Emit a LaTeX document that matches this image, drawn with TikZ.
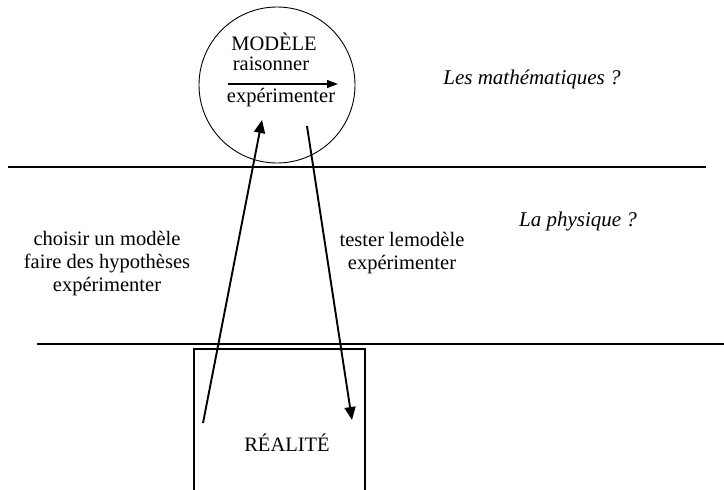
\documentclass[tikz,border=0pt]{standalone}
\usepackage{fontspec}
\setmainfont{Liberation Serif}
\usepackage{tikz}
\usetikzlibrary{arrows.meta,positioning,calc}

\begin{document}
\begin{tikzpicture}[x=1pt, y=-1pt,
  every node/.style={font=\fontsize{20.5}{23}\selectfont, inner sep=0pt},
  levelline/.style={line width=2.8pt},
  bigarrow/.style={line width=1.9pt, -{Triangle[length=13pt,width=11pt]}}]
  \useasboundingbox (0,0) rectangle (724,490);

  % Model circle
  \node[draw, circle, line width=0.9pt, minimum size=156pt] (modele) at (277,85) {};
  \node (titre) at (274,42) {MODÈLE};
  \node (raison) at (271,64) {raisonner};
  \node (exper) at (281,98) {expérimenter};
  \coordinate (ra) at (228,84);
  \coordinate (rb) at (338,84);
  \draw[line width=1.2pt, -{Triangle[length=11pt,width=8pt]}] (ra) -- (rb);

  % Levels
  \coordinate (h1a) at (8,167);
  \coordinate (h1b) at (706,167);
  \coordinate (h2a) at (37,344);
  \coordinate (h2b) at (724,344);
  \draw[levelline] (h1a) -- (h1b);
  \draw[levelline] (h2a) -- (h2b);

  \node[font=\fontsize{21}{23}\selectfont\itshape] (maths) at (532,79) {Les mathématiques ?};
  \node[font=\fontsize{21}{23}\selectfont\itshape] (phys) at (578,221) {La physique ?};

  % Reality box
  \draw[line width=1.4pt] (194,490) |- (365,349) -- (365,490);
  \node (realite) at (287,443) {RÉALITÉ};

  % Side texts
  \node[align=center] (gauche) at (107,264) {choisir un modèle\\faire des hypothèses\\expérimenter};
  \node[align=center] (droite) at (402,253) {tester lemodèle\\expérimenter};

  % Arrows
  \coordinate (g1) at (203,423);
  \coordinate (g2) at (262,120);
  \coordinate (d1) at (307,126);
  \coordinate (d2) at (352,420);
  \draw[bigarrow] (g1) -- (g2);
  \draw[bigarrow] (d1) -- (d2);
\end{tikzpicture}
\end{document}
